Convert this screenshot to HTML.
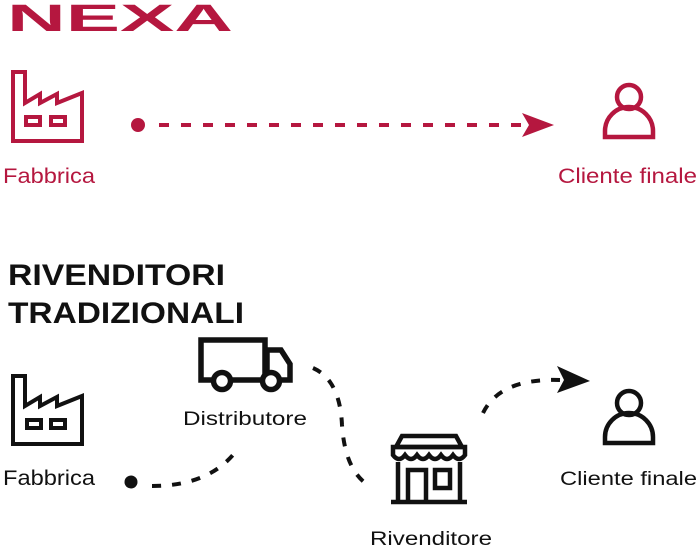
<!DOCTYPE html>
<html><head><style>
html,body{margin:0;padding:0;background:#fff;}
svg{display:block;}
text{font-family:"Liberation Sans",sans-serif;}
</style></head><body>
<svg width="699" height="550" viewBox="0 0 699 550" xmlns="http://www.w3.org/2000/svg">
<text x="7" y="31" font-size="38" font-weight="900" fill="#b5173f" textLength="226" lengthAdjust="spacingAndGlyphs">NEXA</text>

<g fill="none" stroke="#b5173f" stroke-width="4">
<path d="M13 141 V72 H25 V103 L40 94 V103 L57 94 V103 L82 93 V141 Z"/>
<rect x="26" y="117" width="14" height="8"/>
<rect x="51" y="117" width="14" height="8"/>
</g>
<circle cx="138" cy="125" r="7" fill="#b5173f"/>
<line x1="159" y1="125" x2="522" y2="125" stroke="#b5173f" stroke-width="4" stroke-dasharray="10 12"/>
<path d="M522 113 L554 125 L522 137 L529 125 Z" fill="#b5173f"/>
<g fill="none" stroke="#b5173f" stroke-width="4.5">
<circle cx="629" cy="97" r="12"/>
<path d="M605 137 V131 A24 24 0 0 1 653 131 V137 Z"/>
</g>
<text x="3" y="183" font-size="21" fill="#b5173f" textLength="92" lengthAdjust="spacingAndGlyphs">Fabbrica</text>
<text x="558" y="183" font-size="21" fill="#b5173f" textLength="139" lengthAdjust="spacingAndGlyphs">Cliente finale</text>

<text x="8" y="285" font-size="30" font-weight="bold" fill="#111" textLength="217" lengthAdjust="spacingAndGlyphs">RIVENDITORI</text>
<text x="8" y="323" font-size="30" font-weight="bold" fill="#111" textLength="236" lengthAdjust="spacingAndGlyphs">TRADIZIONALI</text>

<g fill="none" stroke="#111" stroke-width="5.5">
<path d="M201 340 H265 V380 H201 Z"/>
<path d="M267 350 H281 L290 364 V380 H267 Z"/>
</g>
<circle cx="222" cy="381" r="8.5" fill="#fff" stroke="#111" stroke-width="5.5"/>
<circle cx="271" cy="381" r="8.5" fill="#fff" stroke="#111" stroke-width="5.5"/>
<text x="183" y="425" font-size="19" fill="#111" textLength="124" lengthAdjust="spacingAndGlyphs">Distributore</text>

<g fill="none" stroke="#111" stroke-width="4">
<path d="M13 444 V376 H25 V406 L40 397 V406 L57 397 V406 L82 396 V444 Z"/>
<rect x="27" y="420" width="14" height="8"/>
<rect x="51" y="420" width="14" height="8"/>
</g>
<text x="3" y="485" font-size="21" fill="#111" textLength="92" lengthAdjust="spacingAndGlyphs">Fabbrica</text>

<circle cx="131" cy="482" r="6.5" fill="#111"/>
<path d="M152 486 Q210 486 237 450" fill="none" stroke="#111" stroke-width="4" stroke-dasharray="9 11"/>
<path d="M313 368 Q340 380 342 425 Q345 470 368 485" fill="none" stroke="#111" stroke-width="4" stroke-dasharray="9 11"/>

<g fill="none" stroke="#111" stroke-width="4.5">
<path d="M396 447 L402 436 H456 L462 447 Z"/>
<path d="M393 447 H465 V455 Q459 463 453 455 Q447 463 441 455 Q435 463 429 455 Q423 463 417 455 Q411 463 405 455 Q399 463 393 455 Z"/>
<path d="M398 462 V502 M460 462 V502"/>
<path d="M391 502 H467"/>
<path d="M408 502 V470 H426 V502"/>
<rect x="435" y="470" width="15" height="18"/>
</g>
<text x="370" y="545" font-size="19" fill="#111" textLength="122" lengthAdjust="spacingAndGlyphs">Rivenditore</text>

<path d="M483 413 Q500 378 560 380" fill="none" stroke="#111" stroke-width="4" stroke-dasharray="9 11"/>
<path d="M557 366 L590 381 L557 393 L564 380 Z" fill="#111"/>

<g fill="none" stroke="#111" stroke-width="4.5">
<circle cx="629" cy="403" r="12"/>
<path d="M605 443 V437 A24 24 0 0 1 653 437 V443 Z"/>
</g>
<text x="560" y="485" font-size="19" fill="#111" textLength="137" lengthAdjust="spacingAndGlyphs">Cliente finale</text>
</svg>
</body></html>
